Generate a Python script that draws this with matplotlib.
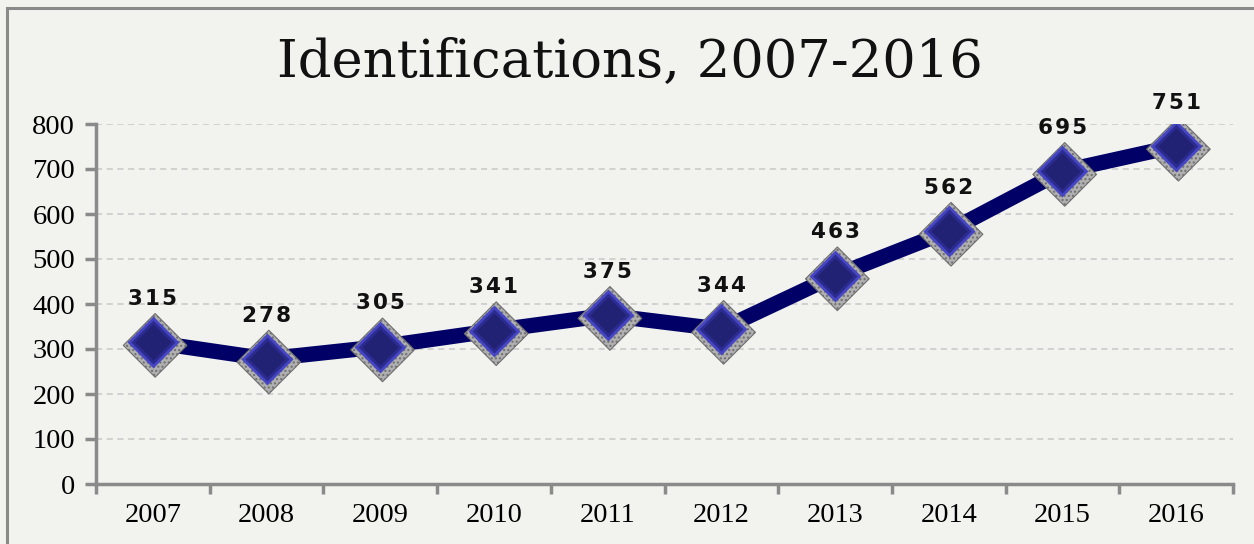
import numpy as np
import matplotlib.pyplot as plt
from matplotlib.lines import Line2D

# Identifications per year
years = ["2007", "2008", "2009", "2010", "2011", "2012", "2013", "2014", "2015", "2016"]
counts = [315, 278, 305, 341, 375, 344, 463, 562, 695, 751]
y_ticks = [0, 100, 200, 300, 400, 500, 600, 700, 800]

W, H = 1254, 544
fig = plt.figure(figsize=(W / 100, H / 100), dpi=100)
fig.patch.set_facecolor("#f2f2ef")

# outer frame (left and top edges)
fig.add_artist(Line2D([7 / W, 7 / W], [0, 1 - 8 / H], transform=fig.transFigure,
                      color="#8a8a8a", lw=2.2))
fig.add_artist(Line2D([7 / W, 1], [1 - 8 / H, 1 - 8 / H], transform=fig.transFigure,
                      color="#8a8a8a", lw=2.2))

x0, x1 = 96, 1233
y0, y1 = 484, 124
ax = fig.add_axes([x0 / W, 1 - y0 / H, (x1 - x0) / W, (y0 - y1) / H])
ax.set_facecolor("none")

x = np.arange(len(years))
ax.set_xlim(-0.5, len(years) - 0.5)
ax.set_ylim(0, 800)

for s in ["top", "right"]:
    ax.spines[s].set_visible(False)
for s in ["left", "bottom"]:
    ax.spines[s].set_color("#8a8a8a")
    ax.spines[s].set_linewidth(2.5)

ax.set_yticks(y_ticks)
ax.set_yticklabels([str(v) for v in y_ticks], fontfamily="Liberation Serif", fontsize=20.5)
ax.yaxis.grid(True, color="#c8c8c8", linestyle=(0, (4, 3)), linewidth=1.1)
ax.set_axisbelow(True)
ax.tick_params(axis="y", length=8, width=2.5, color="#8a8a8a", pad=7)

# category ticks sit at the boundaries, labels at the centers
ax.set_xticks(np.arange(len(years) + 1) - 0.5)
ax.set_xticklabels([])
ax.set_xticks(x, minor=True)
ax.set_xticklabels(years, minor=True, fontfamily="Liberation Serif", fontsize=20.5)
ax.tick_params(axis="x", which="major", length=7, width=2.5, color="#8a8a8a", direction="out")
ax.tick_params(axis="x", which="minor", length=0, pad=14)

ax.plot(x, counts, color="#000066", lw=11, solid_capstyle="round", zorder=3)

# stippled halo, then the diamond itself
ax.scatter(x + 0.02, np.array(counts) - 7, marker="D", s=1050, facecolor="#b0b0b0",
           edgecolor="#6e6e6e", linewidth=0.8, hatch="....", zorder=4)
ax.plot(x, counts, linestyle="none", marker="D", markersize=24,
        markerfacecolor="#2c2c90", markeredgecolor="#4646c4", markeredgewidth=2, zorder=5)
ax.plot(x, counts, linestyle="none", marker="D", markersize=18,
        markerfacecolor="#222274", markeredgecolor="none", zorder=6)

for xi, v in zip(x, counts):
    ax.annotate("\u200a".join(str(v)), (xi, v), xytext=(0, 24), textcoords="offset points",
                ha="center", va="bottom", fontfamily="DejaVu Sans", fontweight="bold",
                fontsize=15.5, color="#111111")

fig.text(630 / W, 1 - 62 / H, "Identifications, 2007-2016", ha="center", va="center",
         fontfamily="DejaVu Serif", fontsize=38, color="#111111")

fig.savefig("out.png", dpi=100, facecolor=fig.get_facecolor())
